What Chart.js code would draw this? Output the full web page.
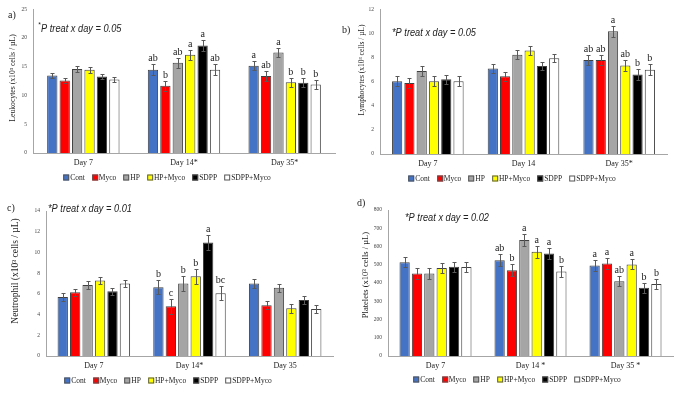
<!DOCTYPE html>
<html>
<head>
<meta charset="utf-8">
<script src="https://cdn.jsdelivr.net/npm/chart.js@4.4.1/dist/chart.umd.min.js"></script>
<style>
  body { margin: 0; background: #fff; }
  #page { position: relative; width: 681px; height: 396px; background: #fff; overflow: hidden; }
  .panel { position: absolute; }
  .legend {
    position: absolute; display: flex; gap: 7px; white-space: nowrap;
    font-family: "Liberation Serif", "Times New Roman", serif; font-size: 7.5px; color: #222;
    transform: translate(-50%, -50%);
  }
  .legend span { display: flex; align-items: center; }
  .legend i { display: inline-block; width: 4px; height: 4px; border: 1px solid #555; margin-right: 1px; }
</style>
</head>
<body>
<div id="page"></div>
<script>
// BLOOD CELL COUNTS - four panels, six treatments, three days
const treatments = ["Cont", "Myco", "HP", "HP+Myco", "SDPP", "SDPP+Myco"];

// a) Leukocytes - rows follow treatments, columns are Day 7 / 14 / 35
const leukoDays = ["Day 7", "Day 14*", "Day 35*"];
const leukoMean = [
    [13.5, 14.5, 15.2],
    [12.6, 11.7, 13.4],
    [14.6, 15.7, 17.5],
    [14.5, 17.1, 12.3],
    [13.3, 18.7, 12.2],
    [12.8, 14.5, 11.9]
];
const leukoErr = [
    [0.5, 0.9, 0.8],
    [0.5, 0.9, 0.8],
    [0.5, 0.9, 0.8],
    [0.5, 0.9, 0.8],
    [0.5, 0.9, 0.8],
    [0.5, 0.9, 0.8]
];
const leukoSig = [
    ["", "ab", "a"],
    ["", "b", "ab"],
    ["", "ab", "a"],
    ["", "a", "b"],
    ["", "a", "b"],
    ["", "ab", "b"]
];
const leukoTicks = [0, 5, 10, 15, 20, 25];

// b) Lymphocytes
const lymphoDays = ["Day 7", "Day 14", "Day 35*"];
const lymphoMean = [
    [6.05, 7.1, 7.8],
    [5.9, 6.45, 7.8],
    [6.9, 8.25, 10.2],
    [6.05, 8.6, 7.35],
    [6.2, 7.3, 6.6],
    [6.05, 7.95, 7.0]
];
const lymphoErr = [
    [0.4, 0.35, 0.45],
    [0.4, 0.4, 0.45],
    [0.4, 0.35, 0.45],
    [0.4, 0.35, 0.45],
    [0.4, 0.35, 0.45],
    [0.4, 0.35, 0.45]
];
const lymphoSig = [
    ["", "", "ab"],
    ["", "", "ab"],
    ["", "", "a"],
    ["", "", "ab"],
    ["", "", "b"],
    ["", "", "b"]
];
const lymphoTicks = [0, 2, 4, 6, 8, 10, 12];

// c) Neutrophil
const neutroDays = ["Day 7", "Day 14*", "Day 35"];
const neutroMean = [
    [5.7, 6.65, 7.0],
    [6.15, 4.8, 4.9],
    [6.85, 7.0, 6.6],
    [7.3, 7.7, 4.6],
    [6.25, 10.95, 5.4],
    [7.0, 6.07, 4.55]
];
const neutroErr = [
    [0.35, 0.7, 0.4],
    [0.35, 0.7, 0.4],
    [0.35, 0.7, 0.4],
    [0.35, 0.7, 0.4],
    [0.35, 0.7, 0.4],
    [0.35, 0.7, 0.4]
];
const neutroSig = [
    ["", "b", ""],
    ["", "c", ""],
    ["", "b", ""],
    ["", "b", ""],
    ["", "a", ""],
    ["", "bc", ""]
];
const neutroTicks = [0, 2, 4, 6, 8, 10, 12, 14];

// d) Platelets
const plateDays = ["Day 7", "Day 14 *", "Day 35 *"];
const plateMean = [
    [514, 525, 496],
    [452, 470, 507],
    [452, 635, 410],
    [482, 571, 502],
    [489, 562, 374],
    [487, 463, 394]
];
const plateErr = [
    [28, 32, 28],
    [28, 32, 28],
    [28, 32, 28],
    [28, 32, 28],
    [28, 32, 28],
    [28, 32, 28]
];
const plateSig = [
    ["", "ab", "a"],
    ["", "b", "a"],
    ["", "a", "ab"],
    ["", "a", "a"],
    ["", "a", "b"],
    ["", "b", "b"]
];
const plateTicks = [0, 100, 200, 300, 400, 500, 600, 700, 800];

const fills = ["#4472c4", "#ff0000", "#a5a5a5", "#ffff00", "#000000", "#ffffff"];
const SERIF = "'Liberation Serif', 'Times New Roman', serif";
const NOTE_FONT = "italic 11px 'Liberation Sans', Arial, sans-serif";

// one entry per panel: data + where things sit inside its canvas
const panels = [
    {
        x: 0, y: 0, w: 340, h: 196, L: 33, R: 335, T: 7, B: 153,
        days: leukoDays, mean: leukoMean, err: leukoErr, sig: leukoSig, ticks: leukoTicks,
        tag: "a)", tagX: 8, tagY: 15,
        note: "P treat x day = 0.05", noteSup: true, noteX: 38, noteY: 29,
        yTitle: "Leukocytes (x10\u00b3 cells / \u00b5L)", yTitleX: 13, yTitleY: 78, yTitleSize: 7.7,
        legendX: 167, legendY: 177, catPct: 0.74
    },
    {
        x: 340, y: 0, w: 341, h: 196, L: 40, R: 327, T: 9.5, B: 154,
        days: lymphoDays, mean: lymphoMean, err: lymphoErr, sig: lymphoSig, ticks: lymphoTicks,
        tag: "b)", tagX: 2, tagY: 30,
        note: "*P treat x day = 0.05", noteSup: false, noteX: 52, noteY: 33,
        yTitle: "Lymphocytes (x10\u00b3 cells / \u00b5L)", yTitleX: 22, yTitleY: 70, yTitleSize: 7.5,
        legendX: 172, legendY: 178, catPct: 0.77
    },
    {
        x: 0, y: 196, w: 340, h: 200, L: 46, R: 333, T: 15, B: 160,
        days: neutroDays, mean: neutroMean, err: neutroErr, sig: neutroSig, ticks: neutroTicks,
        tag: "c)", tagX: 7, tagY: 12,
        note: "*P treat x day = 0.01", noteSup: false, noteX: 48, noteY: 13,
        yTitle: "Neutrophil (x10\u00b3 cells / \u00b5L)", yTitleX: 15, yTitleY: 75, yTitleSize: 9.5,
        legendX: 168, legendY: 184, catPct: 0.78
    },
    {
        x: 340, y: 196, w: 341, h: 200, L: 48, R: 333, T: 14, B: 160,
        days: plateDays, mean: plateMean, err: plateErr, sig: plateSig, ticks: plateTicks,
        tag: "d)", tagX: 17, tagY: 7,
        note: "*P treat x day = 0.02", noteSup: false, noteX: 65, noteY: 22,
        yTitle: "Platelets (x10\u00b3 cells / \u00b5L)", yTitleX: 26, yTitleY: 79, yTitleSize: 8.5,
        legendX: 177, legendY: 183, catPct: 0.78
    }
];

// error bars, letters, panel tag, note and y title
function extrasPlugin(p) {
    return {
        id: "extras",
        afterDatasetsDraw(chart) {
            const ctx = chart.ctx;
            const ys = chart.scales.y;
            ctx.save();
            ctx.strokeStyle = "#595959";
            ctx.lineWidth = 1;
            ctx.fillStyle = "#222";
            ctx.font = "10px " + SERIF;
            ctx.textAlign = "center";
            ctx.textBaseline = "bottom";
            p.mean.forEach((row, i) => {
                const meta = chart.getDatasetMeta(i);
                meta.data.forEach((bar, j) => {
                    const v = row[j], e = p.err[i][j];
                    const yt = Math.round(ys.getPixelForValue(v + e)) + 0.5;
                    const yb = Math.round(ys.getPixelForValue(v - e)) + 0.5;
                    const bx = Math.round(bar.x) + 0.5;
                    ctx.beginPath();
                    ctx.moveTo(bx, yt); ctx.lineTo(bx, yb);
                    ctx.moveTo(bx - 2, yt); ctx.lineTo(bx + 2, yt);
                    ctx.moveTo(bx - 2, yb); ctx.lineTo(bx + 2, yb);
                    ctx.stroke();
                    if (p.sig[i][j]) ctx.fillText(p.sig[i][j], bar.x, yt - 1);
                });
            });
            ctx.restore();
        },
        afterDraw(chart) {
            const ctx = chart.ctx;
            ctx.save();
            ctx.fillStyle = "#222";
            ctx.textBaseline = "middle";
            ctx.textAlign = "left";
            ctx.font = "10px " + SERIF;
            ctx.fillText(p.tag, p.tagX, p.tagY);

            // note text, squeezed a little to look like a narrow face
            ctx.save();
            ctx.translate(p.noteX, p.noteY);
            ctx.scale(0.84, 1);
            let nx = 0;
            if (p.noteSup) {
                ctx.font = "italic 8px 'Liberation Sans', Arial, sans-serif";
                ctx.fillText("*", 0, -4);
                nx = ctx.measureText("*").width + 0.5;
            }
            ctx.font = NOTE_FONT;
            ctx.fillText(p.note, nx, 0);
            ctx.restore();

            ctx.translate(p.yTitleX, p.yTitleY);
            ctx.rotate(-Math.PI / 2);
            ctx.textAlign = "center";
            ctx.font = p.yTitleSize + "px " + SERIF;
            ctx.fillText(p.yTitle, 0, 0);
            ctx.restore();
        }
    };
}

const page = document.getElementById("page");

panels.forEach(p => {
    const box = document.createElement("div");
    box.className = "panel";
    box.style.left = p.x + "px";
    box.style.top = p.y + "px";
    box.style.width = p.w + "px";
    box.style.height = p.h + "px";
    const canvas = document.createElement("canvas");
    canvas.width = p.w;
    canvas.height = p.h;
    box.appendChild(canvas);

    // legend
    const leg = document.createElement("div");
    leg.className = "legend";
    leg.style.left = p.legendX + "px";
    leg.style.top = p.legendY + "px";
    treatments.forEach((t, i) => {
        const s = document.createElement("span");
        s.innerHTML = `<i style="background:${fills[i]}"></i>${t}`;
        leg.appendChild(s);
    });
    box.appendChild(leg);
    page.appendChild(box);

    const yMax = p.ticks[p.ticks.length - 1];

    new Chart(canvas, {
        type: "bar",
        data: {
            labels: p.days,
            datasets: treatments.map((t, i) => ({
                label: t,
                data: p.mean[i],
                backgroundColor: fills[i],
                borderColor: "#404040",
                borderWidth: 1,
                categoryPercentage: p.catPct,
                barPercentage: 0.83
            }))
        },
        options: {
            responsive: false,
            animation: false,
            devicePixelRatio: 1,
            layout: { padding: { left: 0, top: p.T, right: p.w - p.R, bottom: 0 } },
            plugins: {
                legend: { display: false },
                tooltip: { enabled: false }
            },
            scales: {
                x: {
                    grid: { display: false, drawTicks: false },
                    border: { display: true, color: "#a6a6a6", width: 1 },
                    ticks: { color: "#222", font: { family: SERIF, size: 8 }, padding: 5 },
                    afterFit: s => { s.height = p.h - p.B; }
                },
                y: {
                    min: 0,
                    max: yMax,
                    afterBuildTicks: s => { s.ticks = p.ticks.map(v => ({ value: v })); },
                    grid: { display: false, drawTicks: false },
                    border: { display: true, color: "#a6a6a6", width: 1 },
                    ticks: { color: "#444", font: { family: SERIF, size: 5.5 }, padding: 6 },
                    afterFit: s => { s.width = p.L; }
                }
            }
        },
        plugins: [extrasPlugin(p)]
    });
});
</script>
</body>
</html>
